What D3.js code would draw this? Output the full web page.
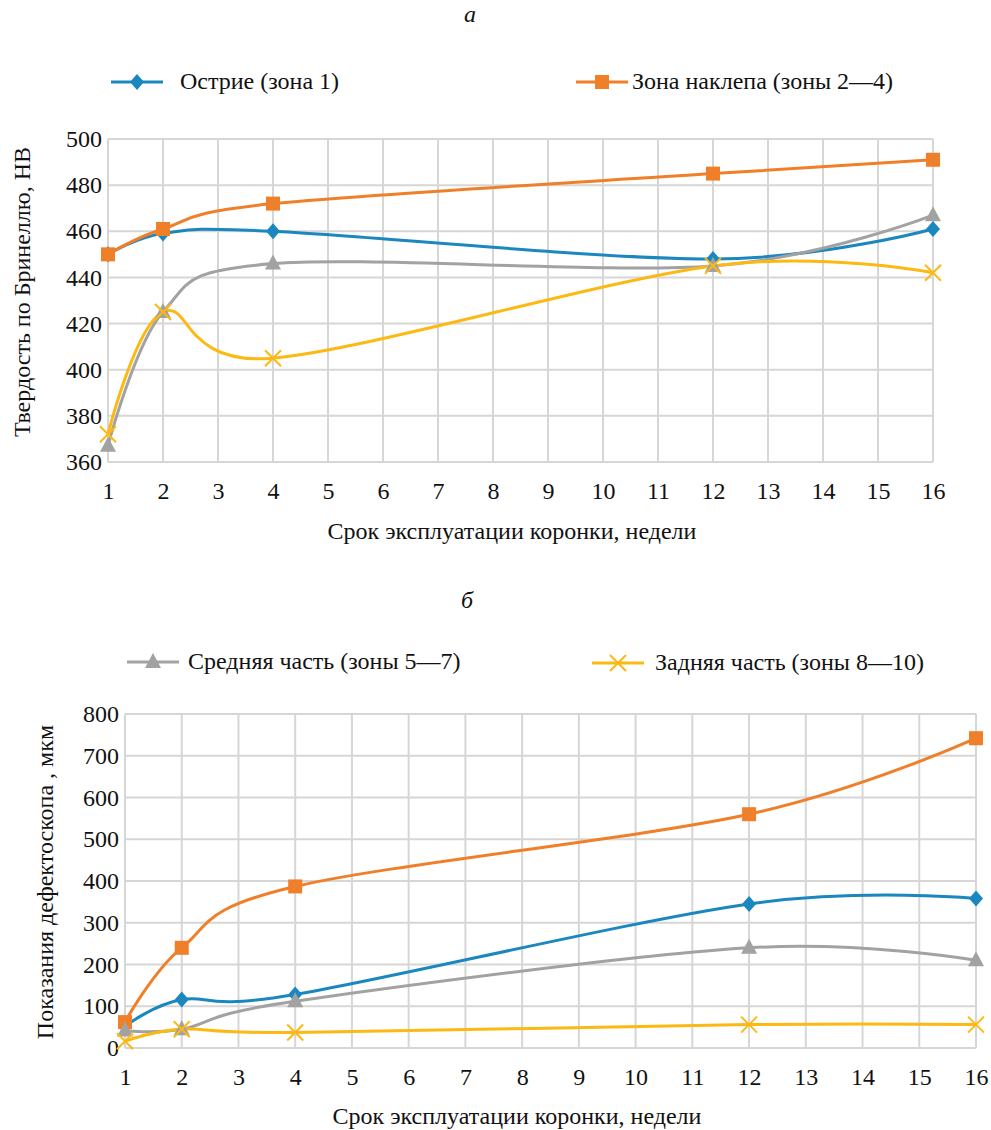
<!DOCTYPE html>
<html><head><meta charset="utf-8">
<script src="https://cdn.jsdelivr.net/npm/d3@7"></script>
<style>
body{margin:0;background:#fff;}
</style></head>
<body><svg id="c" width="991" height="1130"></svg>
<script>
const weeks = [1, 2, 4, 12, 16];
const xTicks = [1,2,3,4,5,6,7,8,9,10,11,12,13,14,15,16];
const seriesNames = ["Острие (зона 1)", "Зона наклепа (зоны 2—4)", "Средняя часть (зоны 5—7)", "Задняя часть (зоны 8—10)"];
const seriesColors = ["#1b87bf", "#f07f2a", "#a2a2a2", "#fdb913"];
const seriesMarkers = ["diamond", "square", "triangle", "cross"];
// Chart a: Brinell hardness, HB
const hardTip   = [450, 459, 460, 448, 461];
const hardWork  = [450, 461, 472, 485, 491];
const hardMid   = [367, 425, 446, 445, 467];
const hardRear  = [372, 425, 405, 445, 442];
const hardTicks = [360, 380, 400, 420, 440, 460, 480, 500];
// Chart b: flaw detector readings, µm
const flawTip   = [52, 116, 128, 345, 358];
const flawWork  = [62, 240, 387, 560, 742];
const flawMid   = [42, 45, 112, 240, 210];
const flawRear  = [16, 45, 37, 56, 56];
const flawTicks = [0, 100, 200, 300, 400, 500, 600, 700, 800];

const svg = d3.select("#c");
const FONT = "'Liberation Serif'";
const FS = "24px";

function txt(sel){ return sel.style("font-family",FONT).style("font-size",FS).attr("fill","#111"); }

function marker(g, type, x, y, color){
  if(type==="diamond"){
    g.append("path").attr("d",`M${x},${y-8}L${x+7},${y}L${x},${y+8}L${x-7},${y}Z`).attr("fill",color);
  } else if(type==="square"){
    g.append("rect").attr("x",x-7).attr("y",y-7).attr("width",14).attr("height",14).attr("fill",color);
  } else if(type==="triangle"){
    g.append("path").attr("d",`M${x},${y-9}L${x+8},${y+6}L${x-8},${y+6}Z`).attr("fill",color);
  } else {
    g.append("path").attr("d",`M${x-8},${y-8}L${x+8},${y+8}M${x+8},${y-8}L${x-8},${y+8}`).attr("stroke",color).attr("stroke-width",2);
  }
}

function chart(opt){
  const x = d3.scaleLinear().domain([1,16]).range([opt.x0, opt.x1]);
  const y = d3.scaleLinear().domain(opt.yDomain).range([opt.y1, opt.y0]);
  const g = svg.append("g");
  g.append("g").selectAll("line").data(xTicks).join("line")
    .attr("x1",d=>x(d)).attr("x2",d=>x(d)).attr("y1",opt.y0).attr("y2",opt.y1)
    .attr("stroke","#d6d6d6").attr("stroke-width",2);
  g.append("g").selectAll("line").data(opt.yTicks).join("line")
    .attr("y1",d=>y(d)).attr("y2",d=>y(d)).attr("x1",opt.x0).attr("x2",opt.x1)
    .attr("stroke","#d6d6d6").attr("stroke-width",2);
  const ya = g.append("g").attr("transform",`translate(${opt.x0},0)`)
    .call(d3.axisLeft(y).tickValues(opt.yTicks).tickSize(0).tickPadding(6));
  ya.select(".domain").remove();
  txt(ya.selectAll("text"));
  const xa = g.append("g").attr("transform",`translate(0,${opt.y1})`)
    .call(d3.axisBottom(x).tickValues(xTicks).tickFormat(d3.format("d")).tickSize(0).tickPadding(opt.xPad));
  xa.select(".domain").remove();
  txt(xa.selectAll("text"));
  const line = d3.line().x((d,i)=>x(weeks[i])).y(d=>y(d)).curve(d3.curveCardinal.tension(0));
  opt.data.forEach((vals,k)=>{
    g.append("path").attr("d",line(vals)).attr("fill","none")
      .attr("stroke",seriesColors[k]).attr("stroke-width",3);
  });
  opt.data.forEach((vals,k)=>{
    vals.forEach((v,i)=>marker(g, seriesMarkers[k], x(weeks[i]), y(v), seriesColors[k]));
  });
  txt(g.append("text").attr("x",opt.xtX).attr("y",opt.xtY).attr("text-anchor","middle"))
    .text("Срок эксплуатации коронки, недели");
  txt(g.append("text").attr("transform",`translate(${opt.ytX},${opt.ytY}) rotate(-90)`)
    .attr("text-anchor","middle")).text(opt.yTitle);
  txt(g.append("text").attr("x",opt.letterX).attr("y",opt.letterY).attr("text-anchor","middle"))
    .style("font-style","italic").text(opt.letter);
  opt.legend.forEach(L=>{
    const k=L.k;
    g.append("line").attr("x1",L.x).attr("x2",L.x+52).attr("y1",L.y).attr("y2",L.y)
      .attr("stroke",seriesColors[k]).attr("stroke-width",3);
    marker(g, seriesMarkers[k], L.x+26, L.y, seriesColors[k]);
    txt(g.append("text").attr("x",L.tx).attr("y",L.y+7)).text(seriesNames[k]);
  });
}

chart({x0:108,x1:933,y0:139,y1:462,yDomain:[360,500],yTicks:hardTicks,xPad:20,
  data:[hardTip,hardWork,hardMid,hardRear],
  xtX:512,xtY:539,ytX:30,ytY:292,yTitle:"Твердость по Бринеллю, НВ",
  letter:"а",letterX:470,letterY:22,
  legend:[{k:0,x:111,y:82,tx:180},{k:1,x:576,y:82,tx:632}]});

chart({x0:125,x1:976,y0:714,y1:1048,yDomain:[0,800],yTicks:flawTicks,xPad:20,
  data:[flawTip,flawWork,flawMid,flawRear],
  xtX:517,xtY:1124,ytX:53,ytY:882,yTitle:"Показания дефектоскопа , мкм",
  letter:"б",letterX:467,letterY:608,
  legend:[{k:2,x:127,y:662,tx:188},{k:3,x:592,y:663,tx:655}]});
</script></body></html>
